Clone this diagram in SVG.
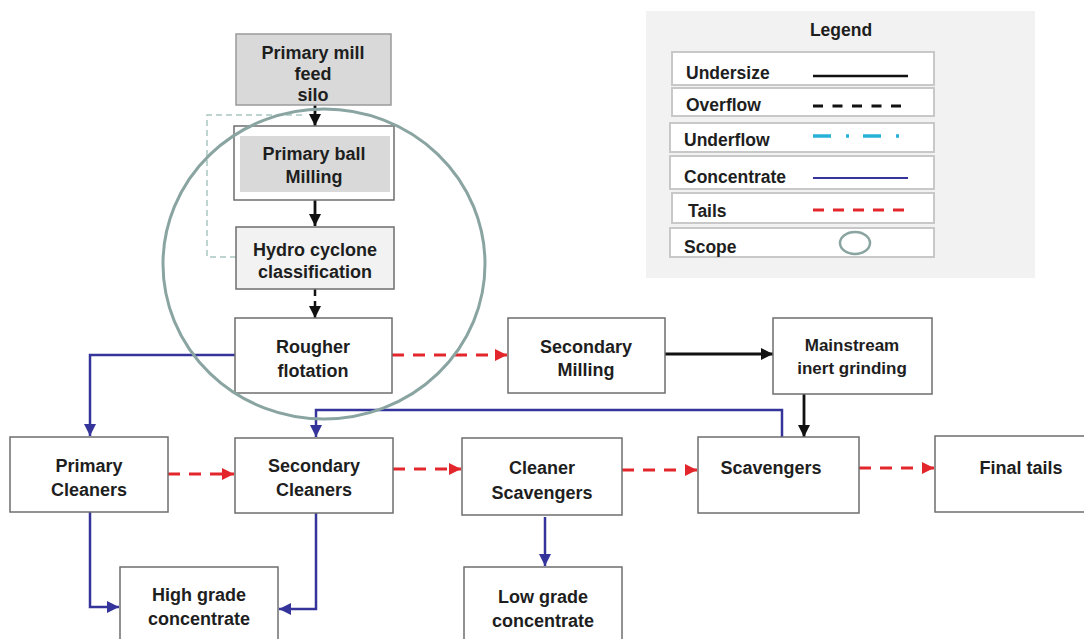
<svg xmlns="http://www.w3.org/2000/svg" width="1084" height="639" viewBox="0 0 1084 639">
  <style>
    .box { fill: #ffffff; stroke: #6e6e6e; stroke-width: 1.5; }
    .lbl { font-family: "Liberation Sans", Arial, sans-serif; font-weight: bold; font-size: 18px; fill: #1e1e1e; text-anchor: middle; }
    .leg { font-family: "Liberation Sans", Arial, sans-serif; font-weight: bold; font-size: 17.5px; fill: #1e1e1e; }
    .under { fill: none; stroke: #111111; stroke-width: 2.8; }
    .over { fill: none; stroke: #111111; stroke-width: 2.5; stroke-dasharray: 7 5; }
    .conc { fill: none; stroke: #34349a; stroke-width: 2.5; }
    .tails { fill: none; stroke: #e3262b; stroke-width: 3; stroke-dasharray: 12 9; }
    .recycle { fill: none; stroke: #a9c6c2; stroke-width: 1.5; stroke-dasharray: 6 4; }
    .scope { fill: none; stroke: #8aa5a1; stroke-width: 3; }
    .legrow { fill: #ffffff; stroke: #c8c8c8; stroke-width: 2; }
  </style>
  <defs>
    <marker id="ahBlack" viewBox="0 0 10 10" refX="10" refY="5" markerWidth="12" markerHeight="12" markerUnits="userSpaceOnUse" orient="auto">
      <path d="M0,0 L10,5 L0,10 z" fill="#111111"/>
    </marker>
    <marker id="ahBlue" viewBox="0 0 10 10" refX="10" refY="5" markerWidth="12" markerHeight="12" markerUnits="userSpaceOnUse" orient="auto">
      <path d="M0,0 L10,5 L0,10 z" fill="#34349a"/>
    </marker>
    <marker id="ahRed" viewBox="0 0 10 10" refX="10" refY="5" markerWidth="12" markerHeight="12" markerUnits="userSpaceOnUse" orient="auto">
      <path d="M0,0 L10,5 L0,10 z" fill="#e3262b"/>
    </marker>
  </defs>

  <rect x="0" y="0" width="1084" height="639" fill="#ffffff"/>

  <!-- Legend panel -->
  <g id="legend">
    <rect x="646" y="11" width="389" height="267" fill="#f2f2f2"/>
    <text class="leg" x="841" y="36" text-anchor="middle">Legend</text>
    <rect class="legrow" x="672" y="52" width="262" height="33"/>
    <text class="leg" x="686" y="79">Undersize</text>
    <line x1="813" y1="76" x2="908" y2="76" stroke="#111111" stroke-width="2.5"/>
    <rect class="legrow" x="672" y="88" width="262" height="28"/>
    <text class="leg" x="686" y="111">Overflow</text>
    <line x1="813" y1="106" x2="906" y2="106" stroke="#111111" stroke-width="3" stroke-dasharray="10 9.5"/>
    <rect class="legrow" x="670" y="123" width="264" height="29"/>
    <text class="leg" x="684" y="146">Underflow</text>
    <line x1="813" y1="136" x2="906" y2="136" stroke="#27b1d6" stroke-width="3.5" stroke-dasharray="18 15 3 14"/>
    <rect class="legrow" x="670" y="156" width="264" height="33"/>
    <text class="leg" x="684" y="183">Concentrate</text>
    <line x1="813" y1="178" x2="908" y2="178" stroke="#34349a" stroke-width="2.2"/>
    <rect class="legrow" x="672" y="193" width="262" height="30"/>
    <text class="leg" x="688" y="217">Tails</text>
    <line x1="813" y1="210" x2="906" y2="210" stroke="#e3262b" stroke-width="3" stroke-dasharray="11 9"/>
    <rect class="legrow" x="670" y="228" width="264" height="29"/>
    <text class="leg" x="684" y="253">Scope</text>
    <ellipse cx="855" cy="243" rx="15" ry="11" fill="none" stroke="#8aa5a1" stroke-width="2.5"/>
  </g>

  <!-- Connectors -->
  <g id="connectors">
    <!-- hydrocyclone recycle back to the mill feed -->
    <polyline class="recycle" points="236,257 207,257 207,115 306,115"/>
    <line class="under" x1="315" y1="105" x2="315" y2="126" marker-end="url(#ahBlack)"/>
    <line class="under" x1="315" y1="200" x2="315" y2="226" marker-end="url(#ahBlack)"/>
    <line class="over" x1="315" y1="289" x2="315" y2="318" marker-end="url(#ahBlack)"/>
    <!-- rougher outputs -->
    <polyline class="conc" points="235,355 90,355 90,436" marker-end="url(#ahBlue)"/>
    <line class="tails" x1="392" y1="355" x2="507" y2="355" marker-end="url(#ahRed)"/>
    <line class="under" x1="665" y1="354" x2="773" y2="354" marker-end="url(#ahBlack)"/>
    <line class="under" x1="804" y1="394" x2="804" y2="437" marker-end="url(#ahBlack)"/>
    <!-- scavenger concentrate back to secondary cleaners -->
    <polyline class="conc" points="782,437 782,410 316,410 316,437" marker-end="url(#ahBlue)"/>
    <!-- tails chain -->
    <line class="tails" x1="168" y1="474" x2="234" y2="474" marker-end="url(#ahRed)"/>
    <line class="tails" x1="393" y1="469" x2="461" y2="469" marker-end="url(#ahRed)"/>
    <line class="tails" x1="622" y1="470" x2="697" y2="470" marker-end="url(#ahRed)"/>
    <line class="tails" x1="859" y1="468" x2="934" y2="468" marker-end="url(#ahRed)"/>
    <!-- concentrate products -->
    <polyline class="conc" points="90,512 90,607 119,607" marker-end="url(#ahBlue)"/>
    <polyline class="conc" points="316,513 316,609 279,609" marker-end="url(#ahBlue)"/>
    <line class="conc" x1="545" y1="517" x2="545" y2="566" marker-end="url(#ahBlue)"/>
  </g>

  <!-- Nodes -->
  <g id="silo">
    <rect x="236" y="34" width="155" height="71" fill="#d9d9d9" stroke="#9a9a9a" stroke-width="1.5"/>
    <text class="lbl" x="313" y="59">Primary mill</text>
    <text class="lbl" x="313" y="80">feed</text>
    <text class="lbl" x="313" y="101">silo</text>
  </g>
  <g id="ball-milling">
    <rect class="box" x="234" y="126" width="160" height="74"/>
    <rect x="240" y="136" width="150" height="56" fill="#d9d9d9"/>
    <text class="lbl" x="314" y="160">Primary ball</text>
    <text class="lbl" x="314" y="183">Milling</text>
  </g>
  <g id="hydrocyclone">
    <rect x="236" y="227" width="158" height="62" fill="#f2f2f2" stroke="#6e6e6e" stroke-width="1.5"/>
    <text class="lbl" x="315" y="256">Hydro cyclone</text>
    <text class="lbl" x="315" y="278">classification</text>
  </g>
  <g id="rougher">
    <rect class="box" x="235" y="318" width="157" height="75"/>
    <text class="lbl" x="313" y="353">Rougher</text>
    <text class="lbl" x="313" y="377">flotation</text>
  </g>
  <g id="secondary-milling">
    <rect class="box" x="508" y="318" width="157" height="75"/>
    <text class="lbl" x="586" y="353">Secondary</text>
    <text class="lbl" x="586" y="376">Milling</text>
  </g>
  <g id="inert-grinding">
    <rect class="box" x="773" y="318" width="159" height="76"/>
    <text class="lbl" x="852" y="351" style="font-size:17px">Mainstream</text>
    <text class="lbl" x="852" y="374" style="font-size:17px">inert grinding</text>
  </g>
  <g id="primary-cleaners">
    <rect class="box" x="10" y="437" width="158" height="75"/>
    <text class="lbl" x="89" y="472">Primary</text>
    <text class="lbl" x="89" y="496">Cleaners</text>
  </g>
  <g id="secondary-cleaners">
    <rect class="box" x="235" y="438" width="158" height="75"/>
    <text class="lbl" x="314" y="472">Secondary</text>
    <text class="lbl" x="314" y="496">Cleaners</text>
  </g>
  <g id="cleaner-scavengers">
    <rect class="box" x="462" y="438" width="160" height="77"/>
    <text class="lbl" x="542" y="474">Cleaner</text>
    <text class="lbl" x="542" y="499">Scavengers</text>
  </g>
  <g id="scavengers">
    <rect class="box" x="698" y="437" width="161" height="76"/>
    <text class="lbl" x="771" y="474">Scavengers</text>
  </g>
  <g id="final-tails">
    <rect class="box" x="935" y="436" width="160" height="76"/>
    <text class="lbl" x="1021" y="474">Final tails</text>
  </g>
  <g id="high-grade">
    <rect class="box" x="120" y="567" width="158" height="80"/>
    <text class="lbl" x="199" y="601">High grade</text>
    <text class="lbl" x="199" y="625">concentrate</text>
  </g>
  <g id="low-grade">
    <rect class="box" x="464" y="567" width="158" height="80"/>
    <text class="lbl" x="543" y="603">Low grade</text>
    <text class="lbl" x="543" y="627">concentrate</text>
  </g>

  <!-- Scope boundary of the grinding circuit -->
  <g id="scope">
    <ellipse class="scope" cx="324" cy="264" rx="161" ry="155"/>
  </g>
</svg>
